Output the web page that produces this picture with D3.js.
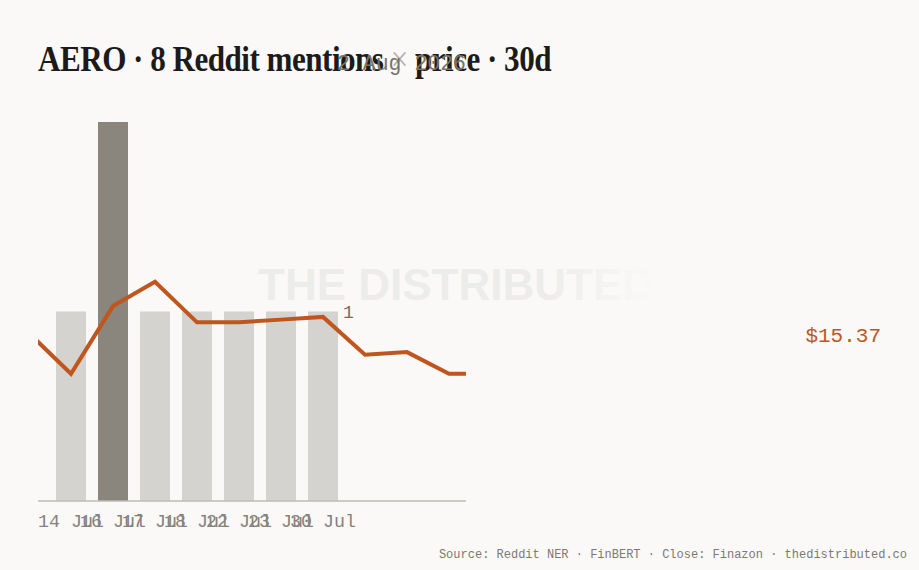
<!DOCTYPE html>
<html>
<head>
<meta charset="utf-8">
<script src="https://cdn.jsdelivr.net/npm/d3@7"></script>
<style>
  html, body { margin: 0; padding: 0; background: #faf9f7; }
  svg { display: block; }
</style>
</head>
<body>
<div id="chart"></div>
<script>
// mentions per day (bars)
const mentionDates = ["14 Jul", "16 Jul", "17 Jul", "18 Jul", "22 Jul", "23 Jul", "30 Jul"]
const mentionCounts = [1, 2, 1, 1, 1, 1, 1]

// daily close (line)
const priceDates = ["11 Jul", "14 Jul", "15 Jul", "16 Jul", "17 Jul", "18 Jul", "21 Jul", "22 Jul", "23 Jul", "24 Jul", "25 Jul", "28 Jul"]
const priceCloses = [15.52, 15.37, 15.62, 15.71, 15.56, 15.56, 15.57, 15.58, 15.44, 15.45, 15.37, 15.37]
const priceDomain = [14.90, 16.30]
const mentionDomain = [0, 2]

const title = "AERO · 8 Reddit mentions × price · 30d"
const dateStamp = "2 Aug 2026"
const lastPrice = "$15.37"
const footer = "Source: Reddit NER · FinBERT · Close: Finazon · thedistributed.co"

const width = 919
const height = 570
const margin = {left: 38, top: 122, right: 453, bottom: 69}
const chartWidth = width - margin.left - margin.right
const chartHeight = height - margin.top - margin.bottom

const mono = "'Liberation Mono', 'DejaVu Sans Mono', monospace"

const svg = d3.select('#chart')
  .append('svg')
    .attr('width', width)
    .attr('height', height)

svg.append('rect')
  .attr('width', width)
  .attr('height', height)
  .attr('fill', '#faf9f7')

// watermark with fading right end
const defs = svg.append('defs')
const fade = defs.append('linearGradient')
    .attr('id', 'wm-fade')
    .attr('x1', 0).attr('x2', 1).attr('y1', 0).attr('y2', 0)
fade.append('stop').attr('offset', '0.72').attr('stop-color', '#ececea')
fade.append('stop').attr('offset', '1').attr('stop-color', '#faf9f7')

svg.append('text')
    .attr('x', 456)
    .attr('y', 300)
    .attr('text-anchor', 'middle')
    .style('font-family', "'Liberation Sans', Arial, sans-serif")
    .style('font-weight', 700)
    .style('font-size', '44px')
    .attr('fill', 'url(#wm-fade)')
    .text('THE DISTRIBUTED')

// title
const titleText = svg.append('text')
    .attr('x', margin.left)
    .attr('y', 71)
    .attr('textLength', 513)
    .attr('lengthAdjust', 'spacingAndGlyphs')
    .style('font-family', "'Liberation Serif', 'DejaVu Serif', serif")
    .style('font-weight', 700)
    .style('font-size', '35px')
    .style('letter-spacing', '-0.6px')
    .attr('fill', '#1c1b19')
const parts = title.split('×')
titleText.append('tspan').text(parts[0])
titleText.append('tspan').attr('fill', '#b5b3ae').style('font-weight', 300).text('×')
titleText.append('tspan').text(parts[1])

svg.append('text')
    .attr('x', margin.left + chartWidth)
    .attr('y', 70)
    .attr('text-anchor', 'end')
    .style('font-family', mono)
    .style('font-size', '21.5px')
    .attr('fill', '#77746e')
    .text(dateStamp)

const g = svg.append('g')
    .attr('transform', `translate(${margin.left}, ${margin.top})`)

const xScale = d3.scaleBand()
    .domain(mentionDates)
    .range([0, 318])
    .paddingInner(12 / 42)
    .paddingOuter(18 / 42)

const yMentions = d3.scaleLinear()
    .domain(mentionDomain)
    .range([chartHeight, 0])

const yPrice = d3.scaleLinear()
    .domain(priceDomain)
    .range([chartHeight, 0])

const maxCount = d3.max(mentionCounts)
const bars = mentionDates.map((d, i) => ({key: d, value: mentionCounts[i]}))

g.selectAll('rect.bar')
  .data(bars)
  .enter().append('rect')
    .attr('class', 'bar')
    .attr('x', d => xScale(d.key))
    .attr('y', d => yMentions(d.value))
    .attr('width', xScale.bandwidth())
    .attr('height', d => chartHeight - yMentions(d.value))
    .attr('fill', d => d.value === maxCount ? '#8a857d' : '#d4d3cf')

// count label next to the latest bar
const lastBar = bars[bars.length - 1]
g.append('text')
    .attr('x', xScale(lastBar.key) + xScale.bandwidth() + 5)
    .attr('y', yMentions(lastBar.value))
    .attr('dy', '0.35em')
    .style('font-family', mono)
    .style('font-size', '18px')
    .attr('fill', '#6f6c67')
    .text(lastBar.value)

// x axis
const xAxis = g.append('g')
    .attr('transform', `translate(0, ${chartHeight})`)
    .call(d3.axisBottom(xScale).tickSize(0).tickPadding(0))
xAxis.select('.domain').remove()
xAxis.selectAll('text')
    .attr('y', 26)
    .attr('dy', 0)
    .style('font-family', mono)
    .style('font-size', '18.3px')
    .attr('fill', '#85827d')

g.append('line')
    .attr('x1', 0)
    .attr('x2', chartWidth)
    .attr('y1', chartHeight)
    .attr('y2', chartHeight)
    .attr('stroke', '#bdbbb6')
    .attr('stroke-width', 1.5)

// price line, stepped on the bar spacing, clipped to the plot
defs.append('clipPath')
    .attr('id', 'plot-clip')
  .append('rect')
    .attr('x', 0)
    .attr('y', -margin.top)
    .attr('width', chartWidth)
    .attr('height', height)

const step = xScale.step()
const firstCenter = xScale(mentionDates[0]) + xScale.bandwidth() / 2
const xPrice = d3.scaleLinear()
    .domain([0, priceDates.length - 1])
    .range([firstCenter - step, firstCenter + (priceDates.length - 2) * step])

const line = d3.line()
    .x((d, i) => xPrice(i))
    .y(d => yPrice(d))

g.append('path')
    .datum(priceCloses)
    .attr('clip-path', 'url(#plot-clip)')
    .attr('d', line)
    .attr('fill', 'none')
    .attr('stroke', '#c0561f')
    .attr('stroke-width', 4)
    .attr('stroke-linejoin', 'miter')

svg.append('text')
    .attr('x', 881)
    .attr('y', 342)
    .attr('text-anchor', 'end')
    .style('font-family', mono)
    .style('font-size', '21px')
    .attr('fill', '#c0561f')
    .text(lastPrice)

svg.append('text')
    .attr('x', 907)
    .attr('y', 558)
    .attr('text-anchor', 'end')
    .style('font-family', mono)
    .style('font-size', '12px')
    .attr('fill', '#7c7974')
    .text(footer)
</script>
</body>
</html>
